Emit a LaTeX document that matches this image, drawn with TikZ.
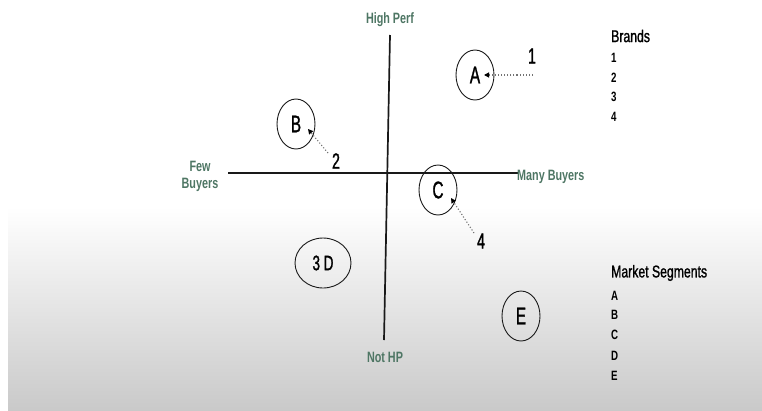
\documentclass[tikz,border=0pt]{standalone}
\usepackage{fontspec}
\setmainfont{Liberation Sans}[FakeStretch=0.72, FakeBold=1.2]
\newfontfamily\axisfont{Liberation Sans Bold}[FakeStretch=0.72]
\newfontfamily\tallfont{Liberation Sans}[FakeStretch=0.64, FakeBold=1.2]
\usetikzlibrary{shapes.geometric,arrows.meta}
\definecolor{axislbl}{RGB}{78,118,100}
\definecolor{ink}{RGB}{25,25,25}
\tikzset{
  axisline/.style={line width=1.7pt, ink},
  axislabel/.style={font=\axisfont\fontsize{15}{16}\selectfont, text=axislbl, inner sep=0pt, align=center},
  segment/.style={ellipse, draw=ink, line width=0.9pt, inner sep=0pt,
    minimum width=38pt, minimum height=50pt, font=\tallfont\fontsize{24}{24}\selectfont},
  brandnum/.style={font=\tallfont\fontsize{22}{22}\selectfont, inner sep=0pt},
  pointer/.style={black!55, dotted, line width=1.1pt,
    -{Triangle[length=5pt,width=5pt,fill=black,color=black]}},
  heading/.style={font=\fontsize{17}{17}\selectfont, anchor=west, inner sep=0pt},
  listitem/.style={font=\axisfont\fontsize{13.5}{14}\selectfont, anchor=west, inner sep=0pt},
}
\begin{document}
\begin{tikzpicture}[x=1pt, y=-1pt]
\useasboundingbox (0,0) rectangle (762,410);
% lower half shading
\shade[top color=white, bottom color=black!21] (8,207) rectangle (762,410);

% axes
\coordinate (vtop) at (390,35);
\coordinate (vbot) at (384,340);
\coordinate (hleft) at (228,173);
\coordinate (hright) at (518,173);
\draw[axisline] (vtop) -- (vbot);
\draw[axisline] (hleft) -- (hright);

% axis labels
\node[axislabel] (hp) at (390,20) {High Perf};
\node[axislabel] (nhp) at (385,357) {Not HP};
\node[axislabel] (few) at (200,176) {Few\\[1pt]Buyers};
\node[axislabel, anchor=west] (many) at (517,177) {Many Buyers};

% segments
\node[segment] (A) at (475,75) {A};
\node[segment] (B) at (296,124) {B};
\node[segment] (C) at (438,190) {C};
\node[segment, minimum width=56pt, minimum height=50pt, font=\tallfont\fontsize{21}{21}\selectfont] (D) at (323,263) {3 D};
\node[segment] (E) at (521,316) {E};

% brand pointers
\node[brandnum] (n1) at (532,56) {1};
\node[brandnum] (n2) at (336,161) {2};
\node[brandnum] (n4) at (481,241) {4};
\coordinate (p1) at (533,75);
\coordinate (t1) at (484,75);
\coordinate (p2) at (328,153);
\coordinate (t2) at (308,129);
\coordinate (p4) at (474,233);
\coordinate (t4) at (451,198);
\draw[pointer] (p1) -- (t1);
\draw[pointer] (p2) -- (t2);
\draw[pointer] (p4) -- (t4);

% legends
\node[heading] (brands) at (611,36) {Brands};
\node[listitem] (b1) at (611,58) {1};
\node[listitem] (b2) at (611,78) {2};
\node[listitem] (b3) at (611,97) {3};
\node[listitem] (b4) at (611,117) {4};

\node[heading] (segs) at (611,273) {Market Segments};
\node[listitem] (sA) at (611,296) {A};
\node[listitem] (sB) at (611,315) {B};
\node[listitem] (sC) at (611,335) {C};
\node[listitem] (sD) at (611,356) {D};
\node[listitem] (sE) at (611,376) {E};
\end{tikzpicture}
\end{document}
